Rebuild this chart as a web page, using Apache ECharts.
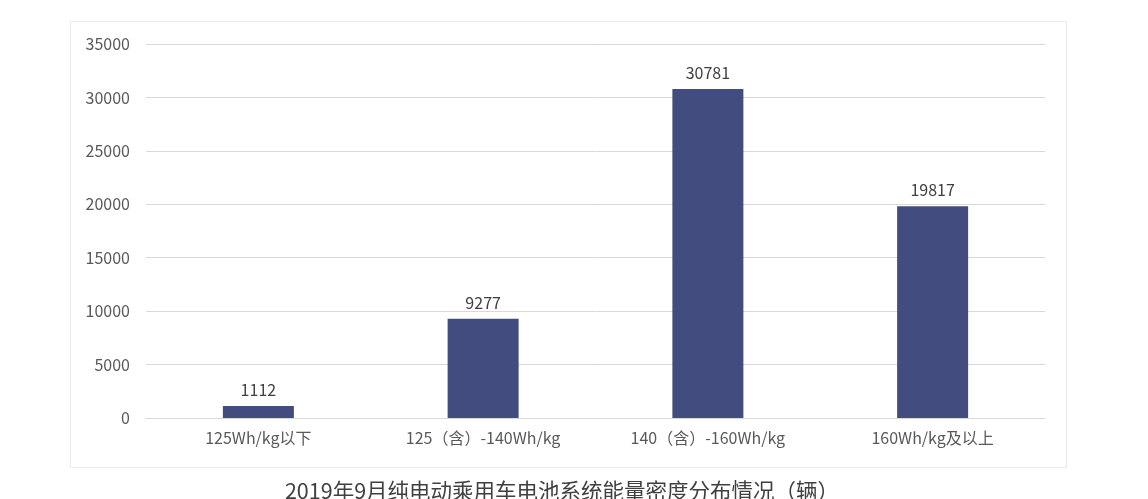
<!DOCTYPE html>
<html><head><meta charset="utf-8">
<script src="https://cdn.jsdelivr.net/npm/echarts@6/dist/echarts.min.js"></script>
<style>html,body{margin:0;padding:0;background:#fff}#c{width:1148px;height:499px}</style>
</head><body><div id="c"></div>
<script>
const categories = ['125Wh/kg以下', '125（含）-140Wh/kg', '140（含）-160Wh/kg', '160Wh/kg及以上'];
const values = [1112, 9277, 30781, 19817];
const titleText = '2019年9月纯电动乘用车电池系统能量密度分布情况（辆）';
const font = '"Noto Sans CJK SC", "Noto Sans", sans-serif';
const chart = echarts.init(document.getElementById('c'));
chart.setOption({
  animation: false,
  graphic: [
    { type: 'rect', x: 70.5, y: 21.5, shape: { width: 996, height: 446 }, style: { fill: 'none', stroke: '#ebebeb', lineWidth: 1 }, z: -1 },
    { type: 'text', x: 562, y: 480, style: { text: titleText, font: '21.5px ' + font, fill: '#404040', textAlign: 'center' } }
  ],
  grid: { left: 146, right: 103, top: 44, bottom: 81 },
  xAxis: {
    type: 'category', data: categories,
    axisLine: { lineStyle: { color: '#d9d9d9' } },
    axisTick: { show: false },
    axisLabel: { color: '#595959', fontSize: 16, fontFamily: font, margin: 12 }
  },
  yAxis: {
    type: 'value', min: 0, max: 35000, interval: 5000,
    axisLine: { show: false }, axisTick: { show: false },
    splitLine: { lineStyle: { color: '#d9d9d9' } },
    axisLabel: { color: '#595959', fontSize: 16, fontFamily: font, margin: 16, formatter: v => String(v) }
  },
  series: [{
    type: 'bar', data: values, barWidth: 71,
    itemStyle: { color: '#424c7f' },
    label: { show: true, position: 'top', distance: 8, color: '#404040', fontSize: 16, fontFamily: font }
  }]
});
</script></body></html>
